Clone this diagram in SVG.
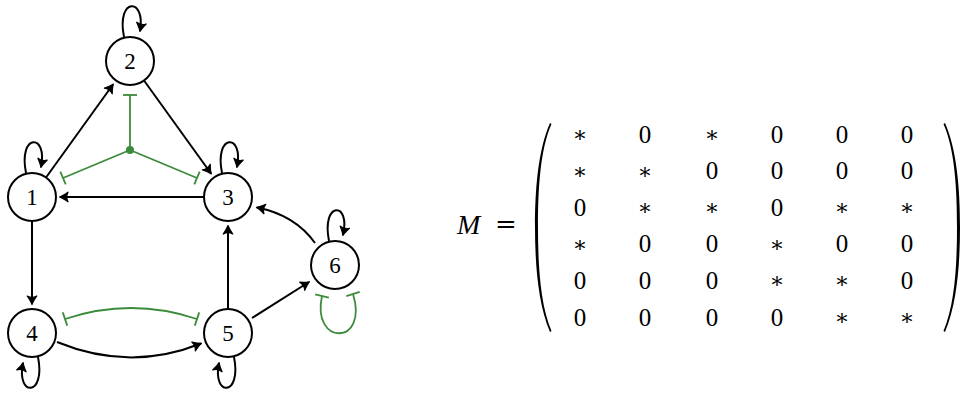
<svg xmlns="http://www.w3.org/2000/svg" width="961" height="394" viewBox="0 0 961 394">
<style>
.node circle{fill:#fff;stroke:#000;stroke-width:2}
.node text{font-family:"Liberation Serif","DejaVu Serif",serif;font-size:23px;text-anchor:middle;fill:#000}
.e{fill:none;stroke:#000;stroke-width:2;marker-end:url(#arr)}
.g{fill:none;stroke:#3c8a3c;stroke-width:1.8}
.gi{marker-end:url(#bar)}
.gb{marker-start:url(#bar);marker-end:url(#bar)}
.m{font-family:"Liberation Serif","DejaVu Serif",serif;font-size:25px;text-anchor:middle;fill:#000}
.s{font-family:"DejaVu Serif","Liberation Serif",serif;font-size:22px;text-anchor:middle;fill:#000}
</style>
<defs>
<marker id="arr" markerUnits="userSpaceOnUse" markerWidth="14" markerHeight="14" viewBox="-10 -7 12 14" refX="0" refY="0" orient="auto" overflow="visible">
<path d="M-8,-4.8 Q-2.5,-1 0.5,0 Q-2.5,1 -8,4.8 Q-5.5,0 -8,-4.8 Z" fill="#000" stroke="#000" stroke-width="1.2" stroke-linejoin="round"/>
</marker>
<marker id="bar" markerUnits="userSpaceOnUse" markerWidth="4" markerHeight="16" viewBox="-2 -8 4 16" refX="0" refY="0" orient="auto" overflow="visible">
<path d="M0,-7 L0,7" stroke="#3c8a3c" stroke-width="1.8"/>
</marker>
</defs>

<g id="connectors">
<path class="e" d="M46,177.5 L113,84.5"/>
<path class="e" d="M144,80.5 L211,173.5"/>
<path class="e" d="M204,197 L60,197"/>
<path class="e" d="M32,221 L32,304"/>
<path class="e" d="M228,309 L228,226"/>
<path class="e" d="M315,243 Q295,215 257,207.5"/>
<path class="e" d="M252,318 L309,282"/>
<path class="e" d="M57,342 Q130,372 201,343.5"/>
<path class="e" d="M124,37 C116,-3 146,-3 140,31"/>
<path class="e" d="M26,173 C18,133 48,133 41,167"/>
<path class="e" d="M222,173 C214,133 244,133 237,167"/>
<path class="e" d="M329,241 C321,201 351,201 343,235"/>
<path class="e" d="M38,357 C46,397 16,397 23,363"/>
<path class="e" d="M234,357 C242,397 212,397 219,363"/>
<path class="g gi" d="M130,150 L130,95"/>
<path class="g gi" d="M130,150 L63,178"/>
<path class="g gi" d="M130,150 L197,178"/>
<circle cx="130" cy="150" r="4" fill="#3c8a3c"/>
<path class="g gb" d="M65,319 Q131,297 197,319"/>
<path class="g gb" d="M322,296 C311,346 369,346 353,294"/>
</g>

<g id="n1" class="node"><circle cx="32" cy="197" r="24"/><text x="32" y="205">1</text></g>
<g id="n2" class="node"><circle cx="130" cy="61" r="24"/><text x="130" y="69">2</text></g>
<g id="n3" class="node"><circle cx="228" cy="197" r="24"/><text x="228" y="205">3</text></g>
<g id="n4" class="node"><circle cx="32" cy="333" r="24"/><text x="32" y="341">4</text></g>
<g id="n5" class="node"><circle cx="228" cy="333" r="24"/><text x="228" y="341">5</text></g>
<g id="n6" class="node"><circle cx="335" cy="265" r="24"/><text x="335" y="273">6</text></g>

<g id="matrix">
<text x="457" y="234" font-family="Liberation Serif, serif" font-size="28" font-style="italic">M</text>
<text x="506" y="233" font-family="DejaVu Serif, serif" font-size="26" text-anchor="middle">=</text>
<path d="M550,123 C538,150 535,190 535,227 C535,264 538,304 550,332 L551.5,331 C540,304 538,264 538,227 C538,190 540,150 551.5,124 Z" fill="#000"/>
<path d="M945,123 C957,150 960,190 960,227 C960,264 957,304 945,332 L943.5,331 C955,304 957,264 957,227 C957,190 955,150 943.5,124 Z" fill="#000"/>
<g class="m">
<text x="645" y="142.5">0</text><text x="777" y="142.5">0</text><text x="842" y="142.5">0</text><text x="907" y="142.5">0</text>
<text x="712" y="179">0</text><text x="777" y="179">0</text><text x="842" y="179">0</text><text x="907" y="179">0</text>
<text x="580" y="215.5">0</text><text x="777" y="215.5">0</text>
<text x="645" y="252">0</text><text x="712" y="252">0</text><text x="842" y="252">0</text><text x="907" y="252">0</text>
<text x="580" y="289">0</text><text x="645" y="289">0</text><text x="712" y="289">0</text><text x="907" y="289">0</text>
<text x="580" y="325.5">0</text><text x="645" y="325.5">0</text><text x="712" y="325.5">0</text><text x="777" y="325.5">0</text>
</g>
<g class="s">
<text x="580" y="142">∗</text><text x="712" y="142">∗</text>
<text x="580" y="178.6">∗</text><text x="645" y="178.6">∗</text>
<text x="645" y="215.2">∗</text><text x="712" y="215.2">∗</text><text x="842" y="215.2">∗</text><text x="907" y="215.2">∗</text>
<text x="580" y="251.8">∗</text><text x="777" y="251.8">∗</text>
<text x="777" y="288.4">∗</text><text x="842" y="288.4">∗</text>
<text x="842" y="325">∗</text><text x="907" y="325">∗</text>
</g>
</g>
</svg>
